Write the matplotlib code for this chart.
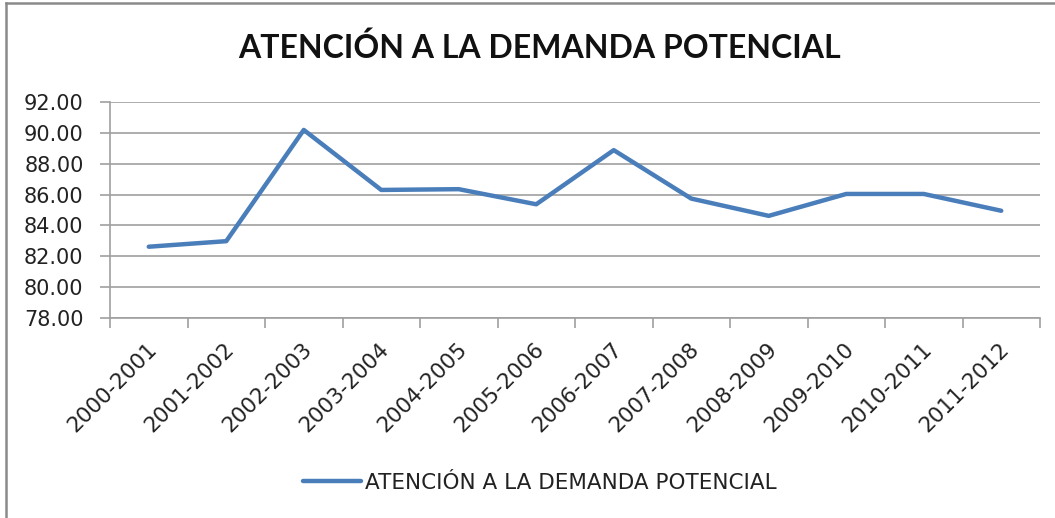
import matplotlib
matplotlib.use("Agg")
import matplotlib.pyplot as plt
import matplotlib.transforms as mtransforms
from matplotlib.lines import Line2D
import numpy as np

# data
periods = ["2000-2001", "2001-2002", "2002-2003", "2003-2004", "2004-2005", "2005-2006",
           "2006-2007", "2007-2008", "2008-2009", "2009-2010", "2010-2011", "2011-2012"]
values = [82.62, 82.98, 90.19, 86.30, 86.35, 85.37, 88.88, 85.74, 84.62, 86.04, 86.04, 84.95]
yticks = [78, 80, 82, 84, 86, 88, 90, 92]
series_name = "ATENCIÓN A LA DEMANDA POTENCIAL"
title = "ATENCIÓN A LA DEMANDA POTENCIAL"

W, H = 1055, 518
fig = plt.figure(figsize=(W / 100, H / 100), dpi=100)
ax = fig.add_axes([110 / W, 1 - 318 / H, 930 / W, 216 / H])

grey = "#a0a0a0"
x = np.arange(len(periods))
ax.plot(x, values, color="#4a7ebb", lw=3.2, solid_capstyle="round", solid_joinstyle="round",
        label=series_name, zorder=3)

ax.set_xlim(-0.5, len(periods) - 0.5)
ax.set_ylim(min(yticks), max(yticks))
ax.set_yticks(yticks)
ax.set_yticklabels([f"{v:.2f}" for v in yticks])
ax.yaxis.grid(True, color=grey, lw=1.2)
ax.set_axisbelow(True)

# tick marks on category boundaries, labels at centers
ax.set_xticks(np.arange(-0.5, len(periods), 1.0))
ax.set_xticklabels([])
ax.set_xticks(x, minor=True)
ax.set_xticklabels(periods, minor=True)
ax.tick_params(axis="x", which="major", length=7, width=1.2, color=grey, direction="out")
ax.tick_params(axis="x", which="minor", length=0, pad=15)
ax.tick_params(axis="y", length=7, width=1.2, color=grey, pad=12, labelsize=15, labelcolor="#222222")

offset = mtransforms.ScaledTranslation(-2 / 100, 0, fig.dpi_scale_trans)
for lab in ax.get_xticklabels(minor=True):
    lab.set_rotation(45)
    lab.set_ha("right")
    lab.set_va("top")
    lab.set_rotation_mode("anchor")
    lab.set_fontsize(15.5)
    lab.set_color("#222222")
    lab.set_transform(lab.get_transform() + offset)

for s in ["top", "right"]:
    ax.spines[s].set_visible(False)
for s in ["left", "bottom"]:
    ax.spines[s].set_color(grey)
    ax.spines[s].set_linewidth(1.2)

fig.text(539 / W, 1 - 48 / H, title, ha="center", va="center", fontsize=23,
         fontweight="bold", family=["Lato", "DejaVu Sans"], color="#111111")

leg = fig.legend(loc="center", bbox_to_anchor=(540 / W, 1 - 483 / H), frameon=False,
                 fontsize=15.5, handlelength=2.7, handletextpad=0.2)
for t in leg.get_texts():
    t.set_color("#222222")

# outer chart border (only left and top visible in the crop)
fig.add_artist(Line2D([6 / W, 6 / W], [0, 1 - 3 / H], color="#8a8a8a", lw=1.8))
fig.add_artist(Line2D([6 / W, 1], [1 - 3 / H, 1 - 3 / H], color="#8a8a8a", lw=1.8))

fig.savefig("out.png", dpi=100)
